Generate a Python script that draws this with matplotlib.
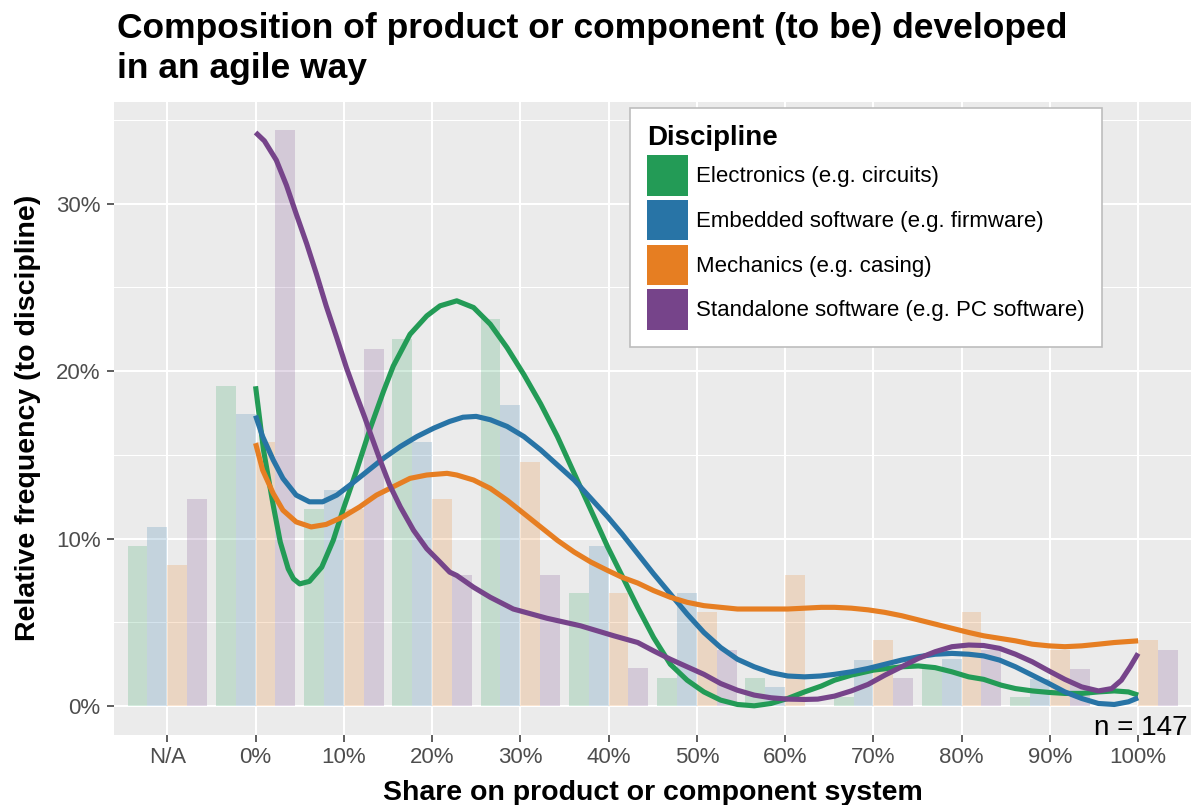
import matplotlib.pyplot as plt
from matplotlib.patches import Patch
from matplotlib.ticker import FixedLocator

plt.rcParams['font.family'] = ['Liberation Sans', 'DejaVu Sans']

# categorias do eixo x e disciplinas
categories = ["N/A", "0%", "10%", "20%", "30%", "40%", "50%", "60%", "70%", "80%", "90%", "100%"]
disciplines = ["Electronics (e.g. circuits)", "Embedded software (e.g. firmware)",
               "Mechanics (e.g. casing)", "Standalone software (e.g. PC software)"]
colors = ["#239B56", "#2874A6", "#E67E22", "#76448A"]

# frequencia relativa (%) por categoria
electronics = [9.55, 19.1, 11.8, 21.9, 23.1, 6.74, 1.69, 1.69, 0.56, 2.25, 0.56, 0.0]
embedded = [10.69, 17.42, 12.9, 15.76, 18.0, 9.54, 6.76, 1.15, 2.78, 2.8, 1.65, 0.0]
mechanics = [8.44, 15.76, 11.8, 12.35, 14.6, 6.76, 5.62, 7.85, 3.94, 5.62, 3.38, 3.94]
standalone = [12.36, 34.37, 21.3, 7.85, 7.85, 2.25, 3.38, 0.0, 1.69, 3.38, 2.2, 3.38]

# curvas suavizadas (share em %, frequencia em %)
elec_share = [0, 0.9, 2.0, 2.8, 3.7, 4.3, 5.0, 6.1, 7.5, 8.8, 9.9, 11.4, 13.0, 14.5, 15.6, 17.5,
              19.4, 20.9, 22.8, 24.7, 26.6, 28.5, 30.4, 32.3, 34.2, 36.1, 38.0, 39.9, 41.7, 43.3,
              45.1, 47.0, 48.9, 50.8, 52.7, 54.6, 56.5, 58.4, 60.3, 62.2, 64.1, 65.6, 67.5, 70.0,
              73.2, 75.1, 77.0, 78.9, 80.8, 82.5, 84.5, 86.1, 88.0, 89.9, 91.7, 93.6, 95.5, 97.3,
              98.9, 100]
elec_freq = [19.1, 15.3, 12.0, 9.8, 8.2, 7.6, 7.3, 7.45, 8.3, 9.9, 11.7, 14.0, 16.6, 18.8, 20.3, 22.2,
             23.3, 23.9, 24.2, 23.8, 22.8, 21.4, 19.8, 18.05, 16.1, 13.9, 11.7, 9.5, 7.6, 5.9,
             4.1, 2.5, 1.55, 0.85, 0.36, 0.1, 0.02, 0.16, 0.46, 0.85, 1.2, 1.55, 1.85, 2.15,
             2.35, 2.4, 2.3, 2.05, 1.75, 1.6, 1.25, 1.05, 0.91, 0.82, 0.76, 0.76, 0.85, 0.91,
             0.85, 0.66]

emb_share = [0, 0.8, 2.0, 3.1, 4.6, 6.1, 7.6, 9.2, 10.7, 12.6, 14.5, 16.4, 18.3, 20.2, 22.0, 23.5,
             25.0, 26.6, 28.5, 30.4, 32.3, 34.2, 36.1, 38.0, 39.9, 41.5, 43.3, 45.1, 47.0, 48.9,
             50.8, 52.7, 54.6, 56.5, 58.4, 60.3, 62.2, 64.0, 65.6, 67.5, 69.4, 71.3, 73.2, 75.1,
             77.0, 78.9, 80.8, 82.5, 84.3, 86.1, 88.0, 89.9, 91.7, 93.6, 95.5, 97.3, 98.9, 100]
emb_freq = [17.35, 16.1, 14.7, 13.6, 12.6, 12.2, 12.2, 12.6, 13.2, 14.0, 14.8, 15.5, 16.1, 16.6, 17.0, 17.25,
            17.3, 17.1, 16.7, 16.1, 15.3, 14.4, 13.5, 12.4, 11.3, 10.3, 9.1, 7.9, 6.7, 5.5,
            4.4, 3.5, 2.8, 2.35, 2.0, 1.8, 1.75, 1.8, 1.9, 2.05, 2.25, 2.5, 2.75, 2.95,
            3.1, 3.15, 3.1, 3.0, 2.75, 2.35, 1.85, 1.35, 0.85, 0.46, 0.16, 0.1, 0.26, 0.5]

mech_share = [0, 0.8, 2.0, 3.1, 4.6, 6.3, 8.0, 9.9, 11.8, 13.7, 15.6, 17.5, 19.4, 21.7, 22.8, 24.7,
              26.6, 28.5, 30.4, 32.3, 34.2, 36.1, 38.0, 39.9, 41.5, 43.3, 45.1, 47.0, 48.9, 50.8,
              52.7, 54.6, 56.5, 58.4, 60.3, 62.2, 64.1, 65.6, 67.5, 69.4, 71.3, 73.2, 75.1, 77.0,
              78.9, 80.8, 82.5, 84.3, 86.1, 88.0, 89.9, 91.7, 93.6, 95.5, 97.3, 100]
mech_freq = [15.7, 14.1, 12.7, 11.7, 11.0, 10.7, 10.85, 11.3, 11.9, 12.6, 13.1, 13.6, 13.8, 13.9, 13.8, 13.5,
             13.0, 12.3, 11.5, 10.7, 9.9, 9.2, 8.6, 8.1, 7.7, 7.35, 6.9, 6.5, 6.2, 6.0,
             5.9, 5.8, 5.8, 5.8, 5.8, 5.85, 5.9, 5.9, 5.85, 5.75, 5.6, 5.4, 5.15, 4.9,
             4.65, 4.4, 4.2, 4.05, 3.9, 3.7, 3.6, 3.55, 3.6, 3.7, 3.8, 3.9]

stand_share = [0, 1.0, 2.35, 3.5, 4.6, 5.8, 6.9, 8.0, 9.2, 10.3, 11.4, 12.4, 13.0, 14.1, 15.2, 16.4,
               17.9, 19.4, 20.9, 22.0, 22.8, 24.7, 26.6, 29.2, 33.0, 36.8, 40.6, 43.3, 45.1, 47.0,
               48.9, 50.8, 52.7, 54.6, 56.5, 58.4, 60.3, 62.2, 63.7, 65.6, 67.5, 69.4, 71.3, 73.2,
               75.1, 77.0, 78.9, 80.8, 82.5, 84.3, 86.1, 88.0, 89.9, 91.7, 93.6, 95.5, 97.0, 98.1,
               99.1, 100]
stand_freq = [34.25, 33.75, 32.6, 31.1, 29.4, 27.6, 25.8, 23.9, 22.0, 20.2, 18.6, 17.2, 16.3, 14.7, 13.2, 11.9,
              10.5, 9.4, 8.6, 8.0, 7.8, 7.1, 6.5, 5.8, 5.25, 4.8, 4.2, 3.8, 3.3, 2.8,
              2.35, 1.9, 1.35, 0.95, 0.66, 0.5, 0.42, 0.4, 0.42, 0.6, 0.91, 1.3, 1.85, 2.35,
              2.85, 3.25, 3.55, 3.65, 3.62, 3.45, 3.1, 2.65, 2.1, 1.6, 1.15, 0.91, 1.05, 1.55,
              2.35, 3.15]

y_ticks = [0, 10, 20, 30]
y_ticklabels = ["0%", "10%", "20%", "30%"]

bars = [electronics, embedded, mechanics, standalone]
curves = [(elec_share, elec_freq), (emb_share, emb_freq), (mech_share, mech_freq), (stand_share, stand_freq)]

fig = plt.figure(figsize=(11.96, 8.05), dpi=100)
ax = fig.add_axes([0.0956, 0.087, 0.9003, 0.7867])
ax.set_facecolor('#EBEBEB')
for s in ax.spines.values():
    s.set_visible(False)

# barras agrupadas (transparentes)
largura = 0.225
pos = list(range(len(categories)))
for j, (valores, cor) in enumerate(zip(bars, colors)):
    xs = [p + (j - 1.5) * largura for p in pos]
    ax.bar(xs, valores, width=largura, color=cor, alpha=0.2, linewidth=0, zorder=2)

# curvas suavizadas: 0% fica na posicao 1, 100% na posicao 11
zero = categories.index("0%")
for (share, freq), cor in zip(curves, colors):
    ax.plot([zero + s / 10 for s in share], freq, color=cor, lw=3.7,
            solid_capstyle='butt', solid_joinstyle='round', zorder=3)

ax.set_xlim(-0.6, len(categories) - 0.4)
ax.set_ylim(-1.72, 36.09)
ax.set_xticks(pos)
ax.set_xticklabels(categories)
ax.set_yticks(y_ticks)
ax.set_yticklabels(y_ticklabels)
ax.yaxis.set_minor_locator(FixedLocator([5, 15, 25, 35]))
ax.set_axisbelow(True)
ax.grid(which='major', color='white', lw=1.5, zorder=0)
ax.grid(which='minor', axis='y', color='white', lw=0.75, zorder=0)
ax.tick_params(which='major', length=5, width=1.1, color='#333333', labelcolor='#4D4D4D',
               labelsize=16, pad=4)
ax.tick_params(axis='y', pad=5)
ax.tick_params(which='minor', length=0)

ax.set_xlabel("Share on product or component system", fontsize=20.5, fontweight='bold')
ax.xaxis.label.set_va('baseline')
ax.xaxis.set_label_coords(0.5, (735 - 800) / 633.3)
ax.set_ylabel("Relative frequency (to discipline)", fontsize=20.5, fontweight='bold')
ax.yaxis.label.set_va('baseline')
ax.yaxis.set_label_coords((35 - 114.3) / 1076.7, 0.5)

ax.text(0.9963, 0.0, "n = 147", transform=ax.transAxes, ha='right', va='baseline',
        fontsize=20, color='black', zorder=5)

fig.text(117 / 1196, 1 - 38.3 / 805, "Composition of product or component (to be) developed",
         fontsize=25.5, fontweight='bold', va='baseline', ha='left')
fig.text(117 / 1196, 1 - 78.3 / 805, "in an agile way",
         fontsize=25.5, fontweight='bold', va='baseline', ha='left')

handles = [Patch(facecolor=c, edgecolor='none') for c in colors]
leg = ax.legend(handles, disciplines, loc='upper left', bbox_to_anchor=(630 / 1196, 1 - 108 / 805),
                bbox_transform=fig.transFigure, title="Discipline",
                title_fontproperties={'weight': 'bold', 'size': 20}, fontsize=16,
                handlelength=1.82, handleheight=2.43, labelspacing=0.185, handletextpad=0.4,
                borderpad=0.77, borderaxespad=0, fancybox=False, framealpha=1,
                edgecolor='#BDBDBD', alignment='left')
leg.get_frame().set_linewidth(1.2)
leg.set_zorder(6)

fig.savefig('out.png', dpi=100)
plt.close()
